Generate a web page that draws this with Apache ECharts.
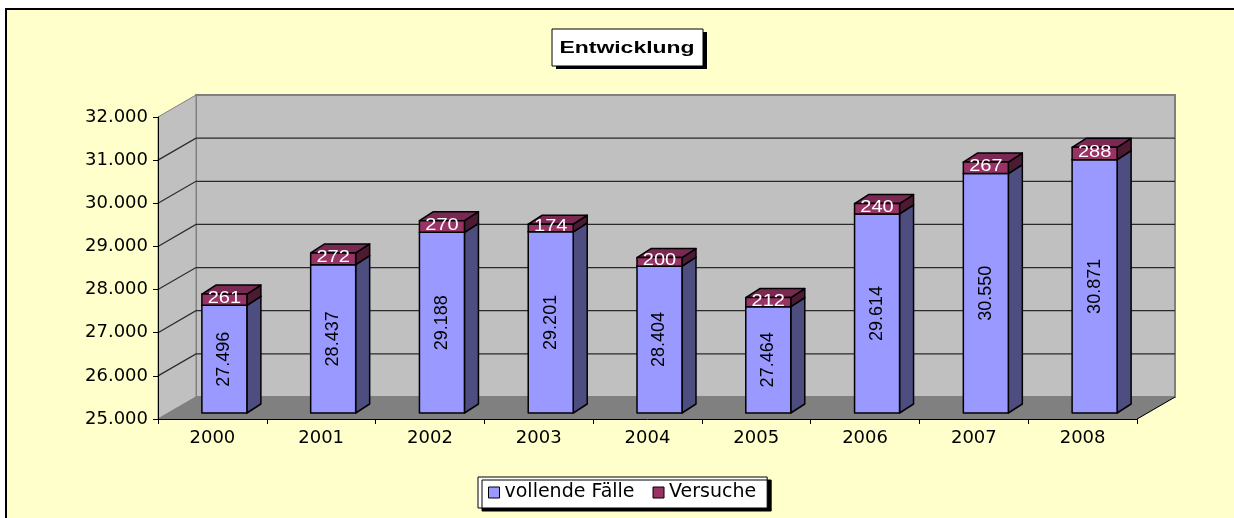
<!DOCTYPE html>
<html>
<head>
<meta charset="utf-8">
<script src="https://cdn.jsdelivr.net/npm/echarts@6/dist/echarts.min.js"></script>
<style>
  html, body { margin: 0; padding: 0; background: #fff; }
  #main { width: 1234px; height: 518px; }
</style>
</head>
<body>
<div id="main"></div>
<script>
var years = ['2000', '2001', '2002', '2003', '2004', '2005', '2006', '2007', '2008'];
var vollende = [27496, 28437, 29188, 29201, 28404, 27464, 29614, 30550, 30871];
var versuche = [261, 272, 270, 174, 200, 212, 240, 267, 288];
var yMin = 25000, yMax = 32000, yStep = 1000;

// 3d look: wall depth and bar offset in pixels
var WALL_DX = 38, WALL_DY = -22;
var BAR_DX = 12, BAR_DY = -6, BAR_W = 45;
var SIDE_DX = 14, SIDE_DY = -9;

function fmt(v) {
	return String(v).replace(/\B(?=(\d{3})+(?!\d))/g, '.');
}

function renderWalls(params, api) {
	var cs = params.coordSys;
	var x0 = cs.x, x1 = cs.x + cs.width;
	var yTop = cs.y, yBot = cs.y + cs.height;
	var kids = [];
	kids.push({type: 'polygon', shape: {points: [[x0 + WALL_DX, yTop + WALL_DY], [x1 + WALL_DX, yTop + WALL_DY], [x1 + WALL_DX, yBot + WALL_DY], [x0 + WALL_DX, yBot + WALL_DY]]},
		style: {fill: '#C0C0C0', stroke: '#808080', lineWidth: 2}});
	kids.push({type: 'polygon', shape: {points: [[x0, yTop], [x0 + WALL_DX, yTop + WALL_DY], [x0 + WALL_DX, yBot + WALL_DY], [x0, yBot]]},
		style: {fill: '#C0C0C0', stroke: '#808080', lineWidth: 1}});
	kids.push({type: 'polygon', shape: {points: [[x0, yBot], [x1, yBot], [x1 + WALL_DX, yBot + WALL_DY], [x0 + WALL_DX, yBot + WALL_DY]]},
		style: {fill: '#808080', stroke: '#808080', lineWidth: 1}});
	kids.push({type: 'line', shape: {x1: x1, y1: yBot, x2: x1 + WALL_DX, y2: yBot + WALL_DY}, style: {stroke: '#000', lineWidth: 1}});
	for (var v = yMin + yStep; v < yMax; v += yStep) {
		var y = api.coord([0, v])[1];
		kids.push({type: 'polyline', shape: {points: [[x0, y], [x0 + WALL_DX, y + WALL_DY], [x1 + WALL_DX, y + WALL_DY]]},
			style: {fill: null, stroke: '#2a2a2a', lineWidth: 1.2}});
	}
	return {type: 'group', children: kids};
}

function block(api, lo, hi, cFront, cSide, cTop) {
	var c0 = api.coord([api.value(0), lo]);
	var c1 = api.coord([api.value(0), hi]);
	var x = c0[0] + BAR_DX - BAR_W / 2;
	var yb = c0[1] + BAR_DY, yt = c1[1] + BAR_DY;
	var st = {stroke: '#000', lineWidth: 1.5, lineJoin: 'round'};
	return {
		cx: x + BAR_W / 2, cy: (yb + yt) / 2,
		shapes: [
			{type: 'polygon', shape: {points: [[x + BAR_W, yb], [x + BAR_W + SIDE_DX, yb + SIDE_DY], [x + BAR_W + SIDE_DX, yt + SIDE_DY], [x + BAR_W, yt]]},
				style: Object.assign({fill: cSide}, st)},
			{type: 'polygon', shape: {points: [[x, yt], [x + SIDE_DX, yt + SIDE_DY], [x + BAR_W + SIDE_DX, yt + SIDE_DY], [x + BAR_W, yt]]},
				style: Object.assign({fill: cTop}, st)},
			{type: 'rect', shape: {x: x, y: yt, width: BAR_W, height: yb - yt},
				style: Object.assign({fill: cFront}, st)}
		]
	};
}

function renderBlue(params, api) {
	var v = api.value(1);
	var b = block(api, yMin, v, '#9999FF', '#4D4D80', '#7A7ACC');
	b.shapes.push({type: 'text', x: b.cx, y: b.cy, rotation: Math.PI / 2,
		style: {text: fmt(v), fill: '#000', font: '18px "Liberation Sans"', align: 'center', verticalAlign: 'middle'}});
	return {type: 'group', children: b.shapes};
}

function renderRed(params, api) {
	var base = api.value(1), v = api.value(2);
	var b = block(api, base, base + v, '#993366', '#4D1A33', '#7A2952');
	b.shapes.push({type: 'text', x: b.cx, y: b.cy - 1, scaleX: 1.25,
		style: {text: String(v), fill: '#fff', font: '16px "Liberation Sans"', align: 'center', verticalAlign: 'middle'}});
	return {type: 'group', children: b.shapes};
}

var blueData = [], redData = [];
for (var i = 0; i < years.length; i++) {
	blueData.push([i, vollende[i]]);
	redData.push([i, vollende[i], versuche[i]]);
}

var myChart = echarts.init(document.getElementById('main'));
var option = {
	backgroundColor: '#fff',
	animation: false,
	textStyle: {fontFamily: 'DejaVu Sans'},
	grid: {left: 158, right: 97, top: 117, bottom: 99, containLabel: false},
	xAxis: {
		type: 'category', data: years, z: 10,
		axisLine: {lineStyle: {color: '#000', width: 1}},
		axisTick: {show: true, length: 5, lineStyle: {color: '#000'}},
		axisLabel: {color: '#000', fontSize: 18, fontFamily: 'DejaVu Sans', margin: 10},
		splitLine: {show: false}
	},
	yAxis: {
		type: 'value', min: yMin, max: yMax, interval: yStep, z: 10,
		axisLine: {show: true, lineStyle: {color: '#000', width: 1}},
		axisTick: {show: true, length: 5, lineStyle: {color: '#000'}},
		axisLabel: {color: '#000', fontSize: 18, fontFamily: 'DejaVu Sans', margin: 10, formatter: fmt},
		splitLine: {show: false}
	},
	legend: {
		data: ['vollende Fälle', 'Versuche'],
		left: 478, top: 477,
		padding: [6, 11, 6, 10],
		icon: 'rect', itemWidth: 11, itemHeight: 11, itemGap: 18,
		itemStyle: {borderColor: '#000', borderWidth: 1},
		backgroundColor: '#fff', borderColor: '#000', borderWidth: 1,
		shadowColor: '#000', shadowBlur: 0, shadowOffsetX: 4, shadowOffsetY: 3,
		textStyle: {color: '#000', fontSize: 19, fontFamily: 'DejaVu Sans'}
	},
	graphic: [
		{type: 'rect', z: -100, shape: {x: 6, y: 9, width: 1240, height: 520},
			style: {fill: '#FFFFCC', stroke: '#000', lineWidth: 2}},
		{type: 'rect', z: 100, shape: {x: 556, y: 32, width: 151, height: 37}, style: {fill: '#000'}},
		{type: 'rect', z: 100, shape: {x: 552, y: 29, width: 151, height: 37}, style: {fill: '#fff', stroke: '#000', lineWidth: 1}},
		{type: 'text', z: 101, x: 627, y: 48, scaleX: 1.35,
			style: {text: 'Entwicklung', fill: '#000', font: 'bold 17px "Liberation Sans"', align: 'center', verticalAlign: 'middle'}}
	],
	series: [
		{name: 'walls', type: 'custom', z: 1, renderItem: renderWalls, data: [[0, yMin]], silent: true},
		{name: 'vollende Fälle', type: 'custom', z: 3, renderItem: renderBlue, data: blueData,
			encode: {x: 0, y: 1}, itemStyle: {color: '#9999FF'}},
		{name: 'Versuche', type: 'custom', z: 4, renderItem: renderRed, data: redData,
			encode: {x: 0, y: 1}, itemStyle: {color: '#993366'}}
	]
};
myChart.setOption(option);
</script>
</body>
</html>
